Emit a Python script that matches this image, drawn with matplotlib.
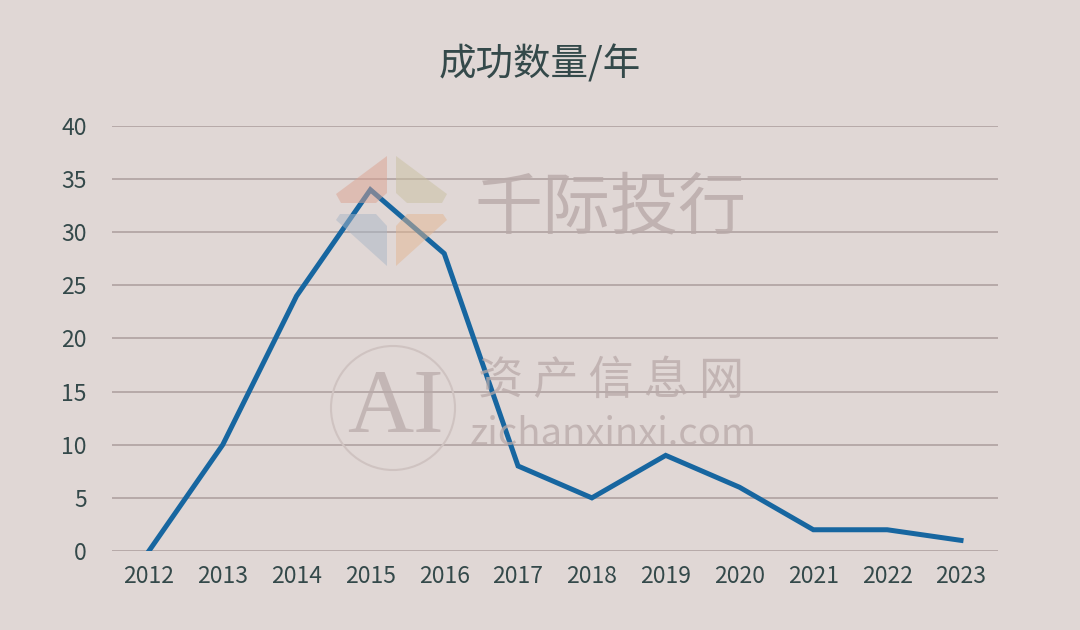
import matplotlib
matplotlib.use("Agg")
import matplotlib.pyplot as plt
from matplotlib.patches import Polygon, Ellipse

plt.rcParams['font.family'] = ['Noto Sans CJK SC', 'DejaVu Sans']

# ── data ─────────────────────────────────────────
years = ["2012", "2013", "2014", "2015", "2016", "2017",
         "2018", "2019", "2020", "2021", "2022", "2023"]
counts = [0, 10, 24, 34, 28, 8, 5, 9, 6, 2, 2, 1]
y_ticks = [0, 5, 10, 15, 20, 25, 30, 35, 40]
title = "成功数量/年"

bg = "#e0d7d5"
txt = "#34494a"
grid_c = "#b3a6a5"
line_c = "#1766a0"

W, H = 1080, 630
fig = plt.figure(figsize=(10.8, 6.3), dpi=100, facecolor=bg)
ax = fig.add_axes([0.1037, 0.1254, 0.8203, 0.6746], facecolor=bg)

x = list(range(len(years)))
ax.plot(x, counts, color=line_c, lw=3.6, solid_joinstyle="miter", zorder=3)

ax.set_xlim(-0.5, len(years) - 0.5)
ax.set_ylim(0, 40)
ax.set_yticks(y_ticks)
ax.set_xticks(x)
ax.set_xticklabels(years)
ax.yaxis.grid(True, color=grid_c, lw=1.3)
ax.set_axisbelow(True)
for s in ax.spines.values():
    s.set_visible(False)
ax.tick_params(length=0, labelsize=16.5, colors=txt)
ax.tick_params(axis="y", pad=18)
ax.tick_params(axis="x", pad=10)

fig.text(0.5, 0.897, title, ha="center", va="center", fontsize=27, color=txt)


# ── watermarks (pixel coords -> figure fraction) ─
def px(pts):
    return [(a / W, 1 - b / H) for a, b in pts]


logo = [
    ([(387, 156), (336, 194), (341, 203), (376, 203), (387, 193)], "#dba291"),
    ([(396, 156), (447, 194), (442, 203), (407, 203), (396, 193)], "#c9c0a0"),
    ([(387, 266), (336, 220), (340, 214), (376, 214), (387, 226)], "#a9b6c6"),
    ([(396, 266), (447, 220), (443, 214), (407, 214), (396, 226)], "#e2b693"),
]
for pts, c in logo:
    fig.patches.append(Polygon(px(pts), closed=True, transform=fig.transFigure,
                               facecolor=c, edgecolor="none", alpha=0.5, zorder=5))

wm = "#b8a9a8"
fig.patches.append(Ellipse((393 / W, 1 - 408 / H), 124 / W, 124 / H,
                           transform=fig.transFigure, facecolor="none",
                           edgecolor="#cfc3c1", lw=1.5, zorder=5))
fig.text(0.439, 0.668, "千际投行", fontsize=49, color=wm, alpha=0.8,
         ha="left", va="center", fontweight="medium", zorder=5)
fig.text(0.443, 0.395, "资 产 信 息 网", fontsize=32.5, color=wm, alpha=0.75,
         ha="left", va="center", zorder=5)
fig.text(0.435, 0.31, "zichanxinxi.com", fontsize=27.5, color=wm, alpha=0.75,
         ha="left", va="center", zorder=5)
fig.text(0.366, 0.35, "AI", fontsize=66, color=wm, alpha=0.7,
         ha="center", va="center", family="Liberation Serif", zorder=5)

fig.savefig("out.png", dpi=100, facecolor=bg)
